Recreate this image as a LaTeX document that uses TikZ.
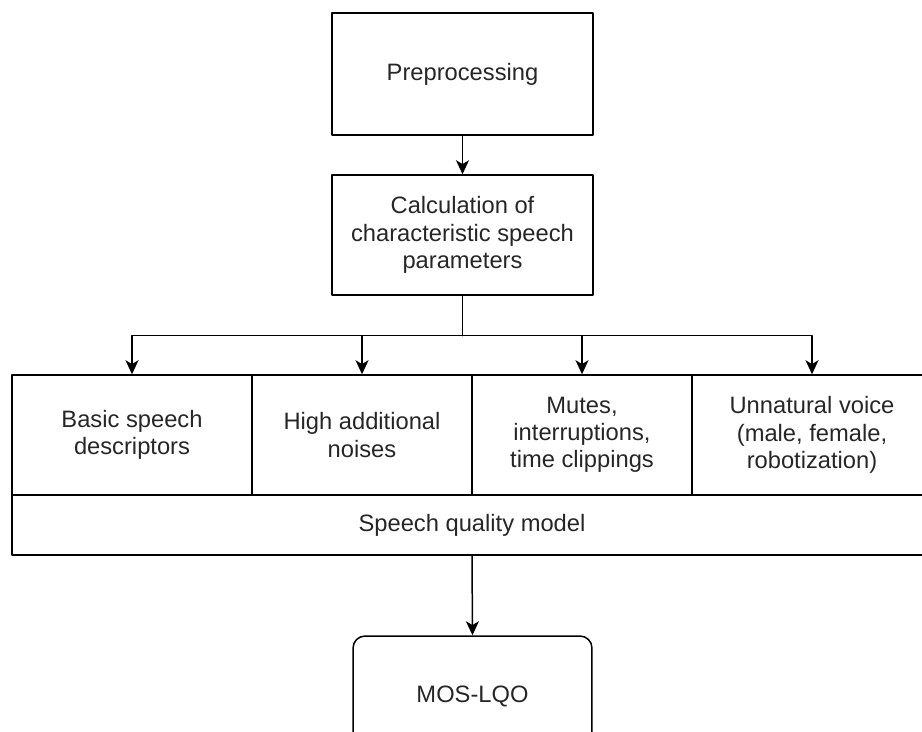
\documentclass[tikz,border=0pt]{standalone}
\usepackage{fontspec}
\setmainfont{Liberation Sans}
\usetikzlibrary{arrows.meta}
\begin{document}
\begin{tikzpicture}[x=0.02cm, y=-0.02cm, line join=round, line cap=round,
    >={Stealth[length=8pt,width=7.4pt,inset=2.2pt]},
    font=\fontsize{13.5}{15.5}\selectfont,
    box/.style={draw, line width=0.85pt, align=center, inner sep=0pt, text=black!85},
    cell/.style={box, minimum height=2.4cm},
    link/.style={->, line width=0.85pt}]
            \useasboundingbox (0,0) rectangle (922,731);
            \clip (0,0) rectangle (922,731);
            \node[box, minimum width=5.22cm, minimum height=2.44cm] (pre) at (462.5,74) {Preprocessing};
            \node[box, minimum width=5.22cm, minimum height=2.4cm] (calc) at (462.5,235) {Calculation of\\characteristic speech\\parameters};
            \node[cell, minimum width=4.8cm] (basic) at (132,435) {Basic speech\\descriptors};
            \node[cell, minimum width=4.4cm] (noise) at (362,435) {High additional\\noises};
            \node[cell, minimum width=4.4cm] (mutes) at (582,435) {Mutes,\\interruptions,\\time clippings};
            \node[cell, minimum width=4.8cm] (voice) at (812,435) {Unnatural voice\\(male, female,\\robotization)};
            \node[box, minimum width=18.4cm, minimum height=1.2cm] (model) at (472,525) {Speech quality model};
            \node[box, rounded corners=0.24cm, minimum width=4.78cm, minimum height=2.4cm] (mos) at (472.5,696) {MOS-LQO};
            \draw[link] (pre) -- (calc);
            \draw[line width=0.85pt] (calc.south) -- ++(0,40) coordinate (split);
            \foreach \c in {basic,noise,mutes,voice}
                \draw[link] (split) -| (\c.north);
            \draw[link] (model.south) -- (mos.north);
        \end{tikzpicture}
\end{document}
